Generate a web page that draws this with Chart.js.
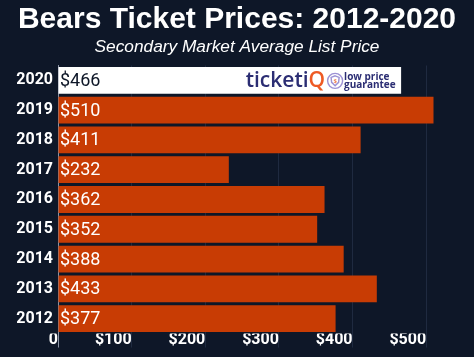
<!DOCTYPE html>
<html>
<head>
<meta charset="utf-8">
<script src="https://cdn.jsdelivr.net/npm/chart.js@4.4.1/dist/chart.umd.min.js"></script>
<style>
  html, body { margin: 0; padding: 0; background: #0e1728; }
  #wrap { width: 474px; height: 357px; }
  canvas { display: block; background: #0e1728; }
</style>
</head>
<body>
<div id="wrap"><canvas id="c" width="474" height="357"></canvas></div>
<script>
const years = ['2020', '2019', '2018', '2017', '2016', '2015', '2014', '2013', '2012'];
const prices = [466, 510, 411, 232, 362, 352, 388, 433, 377];
const tickValues = [0, 100, 200, 300, 400, 500];
const highlightYear = '2020';

const BG = '#0e1728';
const ORANGE = '#c83c04';
const NAVY = '#2b2d73';

const barColors = years.map(y => y === highlightYear ? '#ffffff' : ORANGE);

const valueLabels = {
  id: 'valueLabels',
  afterDatasetsDraw(chart) {
    const ctx = chart.ctx;
    const meta = chart.getDatasetMeta(0);
    meta.data.forEach((bar, i) => {
      ctx.save();
      ctx.font = '18px Roboto';
      ctx.fillStyle = years[i] === highlightYear ? BG : '#ffffff';
      ctx.textAlign = 'left';
      ctx.textBaseline = 'middle';
      ctx.fillText('$' + prices[i], bar.base + 1.5, bar.y + 1);
      ctx.restore();
      if (years[i] === highlightYear) {
        drawLogo(ctx, bar.x, bar.y);
      }
    });
  }
};

function drawLogo(ctx, right, cy) {
  ctx.save();
  ctx.font = '600 21px "Open Sans"';
  ctx.textBaseline = 'alphabetic';
  ctx.textAlign = 'left';
  const w1 = ctx.measureText('ticketi').width;
  const w2 = ctx.measureText('Q').width;
  const endX = right - 76;
  const startX = endX - w1 - w2;
  ctx.fillStyle = NAVY;
  ctx.fillText('ticketi', startX, cy + 7);
  ctx.fillStyle = '#ee5a24';
  ctx.fillText('Q', startX + w1, cy + 7);
  const bx = right - 66, by = cy + 0.5;
  ctx.strokeStyle = '#9d92d4';
  ctx.lineWidth = 1.4;
  ctx.beginPath();
  ctx.arc(bx, by, 7.5, 0, Math.PI * 2);
  ctx.stroke();
  ctx.beginPath();
  ctx.moveTo(bx, by - 5);
  ctx.lineTo(bx + 4, by - 3.5);
  ctx.lineTo(bx + 3.5, by + 1.5);
  ctx.lineTo(bx, by + 5);
  ctx.lineTo(bx - 3.5, by + 1.5);
  ctx.lineTo(bx - 4, by - 3.5);
  ctx.closePath();
  ctx.stroke();
  ctx.fillStyle = '#ee7a4a';
  ctx.font = 'bold 6px "Open Sans"';
  ctx.textAlign = 'center';
  ctx.textBaseline = 'middle';
  ctx.fillText('$', bx, by);
  ctx.fillStyle = NAVY;
  ctx.font = 'bold 10px "Open Sans"';
  ctx.textAlign = 'left';
  ctx.textBaseline = 'middle';
  ctx.fillText('low price', right - 57, cy - 3.5);
  ctx.fillText('guarantee', right - 57, cy + 5);
  ctx.restore();
}

new Chart(document.getElementById('c'), {
  type: 'bar',
  data: {
    labels: years,
    datasets: [{
      data: prices,
      backgroundColor: barColors,
      borderWidth: 0,
      barPercentage: 0.9,
      categoryPercentage: 1.0
    }]
  },
  options: {
    indexAxis: 'y',
    responsive: false,
    animation: false,
    layout: { padding: { left: 0, right: 0, top: 0, bottom: 0 } },
    plugins: {
      legend: { display: false },
      tooltip: { enabled: false },
      title: {
        display: true,
        text: 'Bears Ticket Prices: 2012-2020',
        color: '#ffffff',
        font: { family: '"Liberation Sans", Arial, sans-serif', size: 30, weight: 'bold', lineHeight: 1.1 },
        padding: { top: 3.5, bottom: 0 }
      },
      subtitle: {
        display: true,
        text: 'Secondary Market Average List Price',
        color: '#ffffff',
        font: { family: '"Liberation Sans", Arial, sans-serif', size: 17.3, style: 'italic', lineHeight: 1.2 },
        padding: { top: 0, bottom: 8.2 }
      }
    },
    scales: {
      x: {
        min: 0,
        max: 565,
        afterBuildTicks: axis => {
          axis.ticks = tickValues.map(v => ({ value: v }));
        },
        afterFit: s => { s.height = 23.5; },
        border: { display: false },
        grid: {
          color: c => c.index === 0 ? '#8c94a6' : '#1f2a40',
          tickColor: c => c.index === 0 ? '#8c94a6' : '#1f2a40',
          tickLength: 14,
          lineWidth: 1
        },
        ticks: {
          align: 'end',
          padding: -17,
          color: '#ffffff',
          font: { family: 'Roboto', size: 16, weight: 'bold' },
          callback: v => v === 0 ? '0' : '$' + v
        }
      },
      y: {
        afterFit: s => { s.width = 58; },
        border: { display: true, color: '#8c94a6', width: 1 },
        grid: { display: false, drawTicks: false },
        ticks: {
          padding: 5,
          color: '#ffffff',
          font: { family: 'Roboto', size: 16, weight: 'bold' }
        }
      }
    }
  },
  plugins: [valueLabels]
});
</script>
</body>
</html>
